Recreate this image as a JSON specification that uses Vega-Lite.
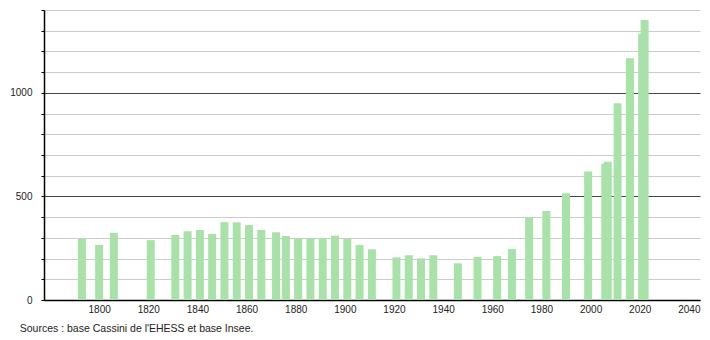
{
  "$schema": "https://vega.github.io/schema/vega-lite/v6.json",
  "width": 656,
  "height": 290,
  "autosize": {"type": "none"},
  "padding": {"left": 44, "top": 10, "right": 10, "bottom": 40},
  "background": "white",
  "config": {"view": {"stroke": null}, "font": "Liberation Sans"},
  "title": {
    "text": "Sources : base Cassini de l'EHESS et base Insee.",
    "orient": "bottom",
    "anchor": "start",
    "fontSize": 10.5,
    "fontWeight": "normal",
    "color": "#222222",
    "dx": 10,
    "offset": 10
  },
  "data": {
    "values": [
      {"year": 1793, "population": 297},
      {"year": 1800, "population": 266},
      {"year": 1806, "population": 324},
      {"year": 1821, "population": 289},
      {"year": 1831, "population": 314},
      {"year": 1836, "population": 332},
      {"year": 1841, "population": 338},
      {"year": 1846, "population": 319},
      {"year": 1851, "population": 376},
      {"year": 1856, "population": 375},
      {"year": 1861, "population": 362},
      {"year": 1866, "population": 338},
      {"year": 1872, "population": 327},
      {"year": 1876, "population": 309},
      {"year": 1881, "population": 298},
      {"year": 1886, "population": 298},
      {"year": 1891, "population": 298},
      {"year": 1896, "population": 311},
      {"year": 1901, "population": 295},
      {"year": 1906, "population": 266},
      {"year": 1911, "population": 245},
      {"year": 1921, "population": 206},
      {"year": 1926, "population": 216},
      {"year": 1931, "population": 201},
      {"year": 1936, "population": 216},
      {"year": 1946, "population": 177},
      {"year": 1954, "population": 208},
      {"year": 1962, "population": 212},
      {"year": 1968, "population": 246},
      {"year": 1975, "population": 399},
      {"year": 1982, "population": 430},
      {"year": 1990, "population": 515},
      {"year": 1999, "population": 620},
      {"year": 2006, "population": 658},
      {"year": 2007, "population": 667},
      {"year": 2011, "population": 950},
      {"year": 2016, "population": 1167},
      {"year": 2021, "population": 1285},
      {"year": 2022, "population": 1352}
    ]
  },
  "mark": {"type": "bar", "size": 8, "color": "#a9e2a9"},
  "encoding": {
    "x": {
      "field": "year",
      "type": "quantitative",
      "scale": {"domain": [1779.6, 2042.5], "nice": false, "zero": false},
      "axis": {
        "values": [1800, 1820, 1840, 1860, 1880, 1900, 1920, 1940, 1960, 1980, 2000, 2020, 2040],
        "format": "d",
        "ticks": false,
        "grid": false,
        "domainColor": "black",
        "domainWidth": 1.5,
        "labelPadding": 4,
        "labelFontSize": 10,
        "labelColor": "#222222",
        "labelFlush": false,
        "title": null
      }
    },
    "y": {
      "field": "population",
      "type": "quantitative",
      "scale": {"domain": [0, 1400], "nice": false},
      "axis": {
        "values": [0, 100, 200, 300, 400, 500, 600, 700, 800, 900, 1000, 1100, 1200, 1300, 1400],
        "format": "d",
        "labelExpr": "datum.value % 500 === 0 ? datum.label : ''",
        "grid": true,
        "gridColor": {"condition": {"test": "datum.value % 500 === 0", "value": "#444444"}, "value": "#cccccc"},
        "gridWidth": 1,
        "domainColor": "black",
        "domainWidth": 1.5,
        "tickColor": "black",
        "tickSize": 3,
        "labelPadding": 9,
        "labelFontSize": 10,
        "labelColor": "#222222",
        "title": null
      }
    }
  }
}
